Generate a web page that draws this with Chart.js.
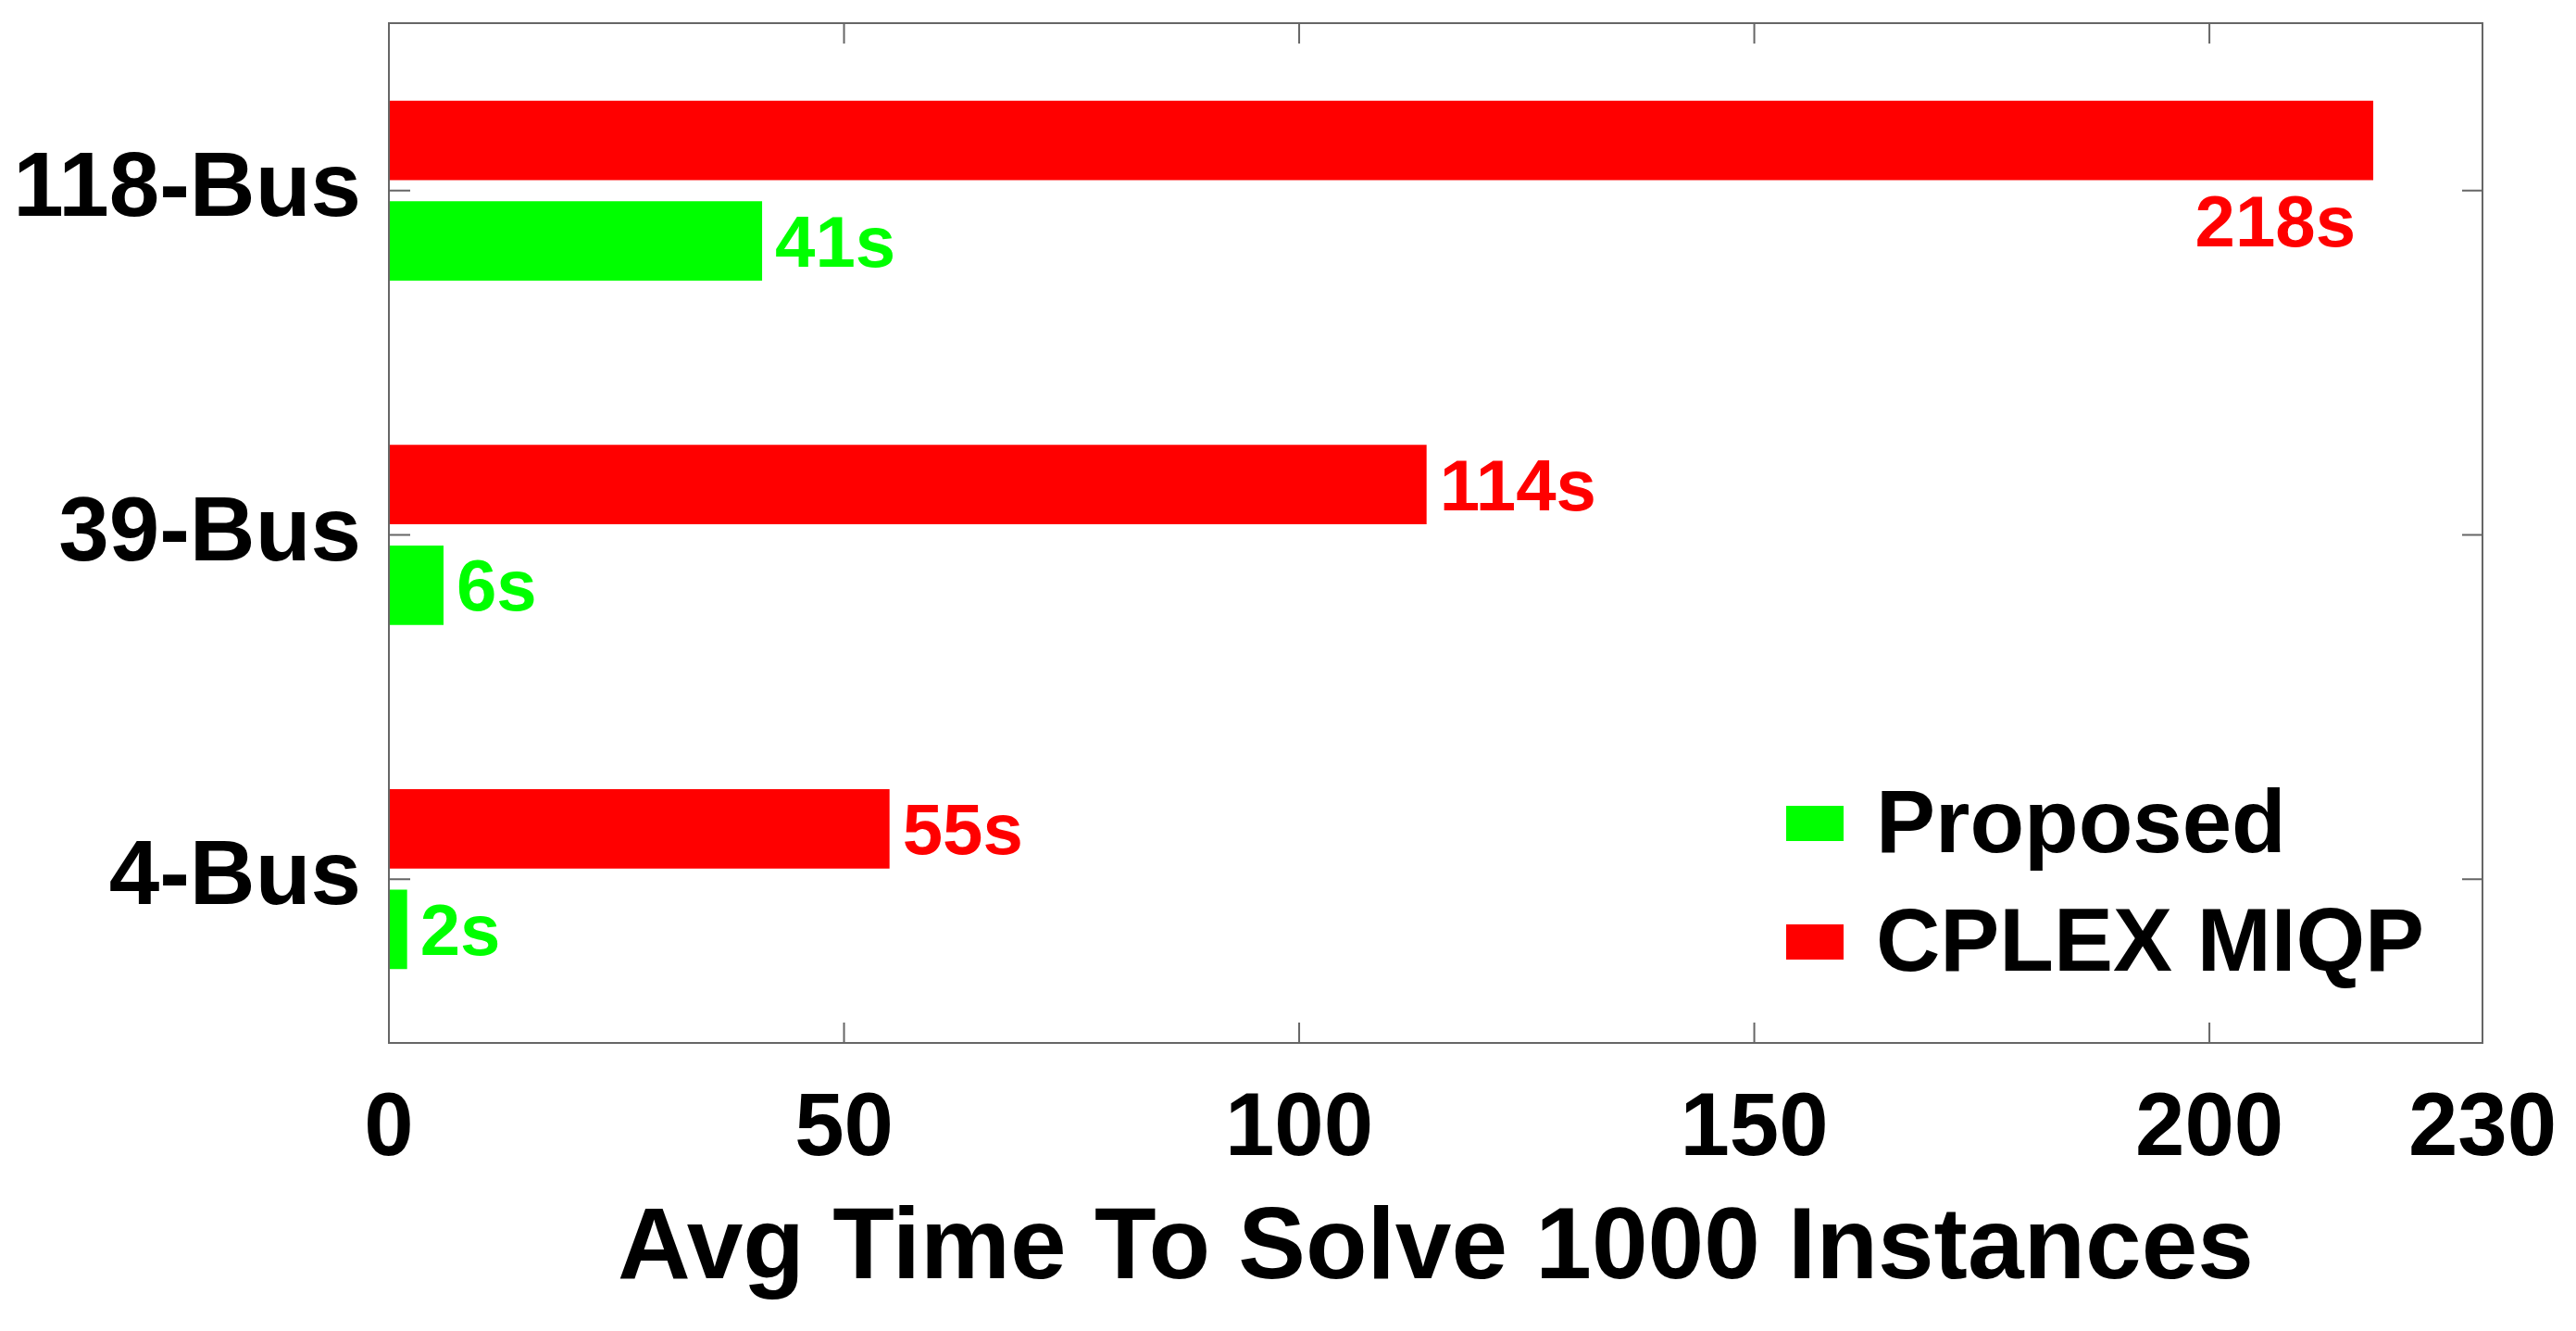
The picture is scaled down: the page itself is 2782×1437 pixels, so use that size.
<!DOCTYPE html>
<html>
<head>
<meta charset="utf-8">
<title>Avg Time To Solve 1000 Instances</title>
<script src="https://cdn.jsdelivr.net/npm/chart.js"></script>
<style>
  body { margin: 0; background: #ffffff; }
  #wrap { width: 2782px; height: 1437px; }
</style>
</head>
<body>
<div id="wrap"><canvas id="timeChart" width="2782" height="1437"></canvas></div>
<script>
// Values
const categories = ['118-Bus', '39-Bus', '4-Bus'];
const proposedTimes = [41, 6, 2];
const cplexTimes = [218, 114, 55];
const xTicks = [0, 50, 100, 150, 200, 230];

const FONT = "'Liberation Sans', Arial, sans-serif";
const FRAME = '#666666';
// MATLAB box sits a little inside the category range
const INSET_TOP = 5, INSET_BOTTOM = 9;

// frame with inward tick marks, like the MATLAB box
const framePlugin = {
  id: 'frame',
  afterDraw(chart) {
    const { ctx, chartArea: a, scales } = chart;
    const top = a.top + INSET_TOP, bottom = a.bottom - INSET_BOTTOM;
    ctx.save();
    ctx.strokeStyle = FRAME;
    ctx.lineWidth = 2;
    ctx.strokeRect(a.left, top, a.right - a.left, bottom - top);
    ctx.beginPath();
    xTicks.forEach(v => {
      if (v === xTicks[0] || v === xTicks[xTicks.length - 1]) return;
      const px = scales.x.getPixelForValue(v);
      ctx.moveTo(px, bottom); ctx.lineTo(px, bottom - 22);
      ctx.moveTo(px, top); ctx.lineTo(px, top + 22);
    });
    categories.forEach((c, i) => {
      const py = scales.y.getPixelForValue(i);
      ctx.moveTo(a.left, py); ctx.lineTo(a.left + 23, py);
      ctx.moveTo(a.right, py); ctx.lineTo(a.right - 22, py);
    });
    ctx.stroke();
    ctx.restore();
  }
};

// "41s" style labels next to each bar
const valueLabels = {
  id: 'valueLabels',
  afterDatasetsDraw(chart) {
    const { ctx, chartArea: a } = chart;
    ctx.save();
    ctx.font = 'bold 78px ' + FONT;
    ctx.textBaseline = 'middle';
    chart.data.datasets.forEach((ds, di) => {
      const meta = chart.getDatasetMeta(di);
      meta.data.forEach((bar, i) => {
        const txt = ds.data[i] + 's';
        const w = ctx.measureText(txt).width;
        ctx.fillStyle = ds.backgroundColor;
        if (bar.x + 12 + w > a.right) {
          // no room on the right, put it under the bar
          ctx.textAlign = 'right';
          ctx.fillText(txt, bar.x - 19, bar.y + bar.height / 2 + 50);
        } else {
          ctx.textAlign = 'left';
          ctx.fillText(txt, bar.x + 14, bar.y + 6);
        }
      });
    });
    ctx.restore();
  }
};

// legend in the lower right corner of the plot
const boxLegend = {
  id: 'boxLegend',
  afterDraw(chart) {
    const { ctx, chartArea: a } = chart;
    const items = chart.data.datasets.slice().reverse();
    ctx.save();
    ctx.font = 'bold 96px ' + FONT;
    ctx.textBaseline = 'middle';
    ctx.textAlign = 'left';
    items.forEach((ds, k) => {
      const x = a.right - 752;
      const y = a.bottom - INSET_BOTTOM - 256 + k * 128;
      ctx.fillStyle = ds.backgroundColor;
      ctx.fillRect(x, y, 62, 38);
      ctx.fillStyle = '#000000';
      ctx.fillText(ds.label, x + 97, y + 24);
    });
    ctx.restore();
  }
};

const ctx = document.getElementById('timeChart').getContext('2d');
new Chart(ctx, {
  type: 'bar',
  data: {
    labels: categories,
    datasets: [
      { label: 'CPLEX MIQP', data: cplexTimes, backgroundColor: '#ff0000' },
      { label: 'Proposed', data: proposedTimes, backgroundColor: '#00ff00' }
    ]
  },
  options: {
    indexAxis: 'y',
    responsive: false,
    devicePixelRatio: 1,
    animation: false,
    categoryPercentage: 0.584,
    barPercentage: 0.79,
    layout: { padding: { top: 20, right: 101, left: 0, bottom: 0 } },
    plugins: {
      legend: { display: false },
      tooltip: { enabled: false }
    },
    scales: {
      x: {
        min: 0,
        max: 230,
        afterBuildTicks: s => { s.ticks = xTicks.map(v => ({ value: v })); },
        afterFit: s => { s.height = 302; s.paddingLeft = 0; s.paddingRight = 0; },
        grid: { display: false, drawTicks: false },
        border: { display: false },
        ticks: {
          color: '#000000',
          padding: 28,
          maxRotation: 0,
          autoSkip: false,
          font: { family: FONT, size: 96, weight: 'bold' }
        },
        title: {
          display: true,
          text: 'Avg Time To Solve 1000 Instances',
          color: '#000000',
          padding: { top: 0, bottom: 22 },
          font: { family: FONT, size: 109, weight: 'bold' }
        }
      },
      y: {
        afterFit: s => { s.width = 420; s.paddingTop = 0; s.paddingBottom = 0; },
        grid: { display: false, drawTicks: false },
        border: { display: false },
        ticks: {
          color: '#000000',
          padding: 30,
          font: { family: FONT, size: 98, weight: 'bold' }
        }
      }
    }
  },
  plugins: [valueLabels, framePlugin, boxLegend]
});
</script>
</body>
</html>
